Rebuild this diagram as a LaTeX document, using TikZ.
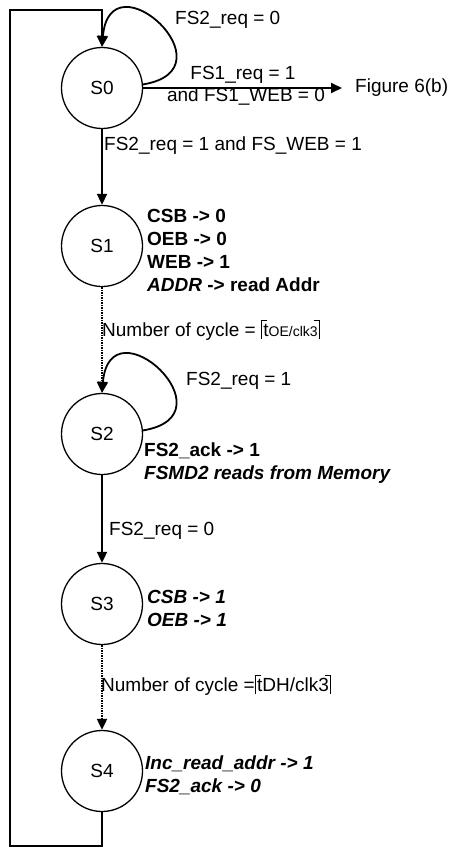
\documentclass[tikz,border=0pt]{standalone}
\usepackage{fontspec}
\setmainfont{Liberation Sans}
\usetikzlibrary{arrows.meta}

% ceiling brackets drawn with rules
\newcommand{\ceilbr}[1]{\rule[-3pt]{1.3pt}{19.3pt}\rule[15pt]{5pt}{1.3pt}\kern-4pt#1\kern-4pt\rule[15pt]{5pt}{1.3pt}\rule[-3pt]{1.3pt}{19.3pt}}

\tikzset{
  every node/.style={font=\fontsize{19}{23}\selectfont},
  state/.style={draw, circle, line width=1.3pt, minimum size=81pt, inner sep=0pt},
  trans/.style={line width=1.8pt, -{Triangle[length=11pt,width=10pt]}},
  waittrans/.style={trans, line width=2pt, dash pattern=on 1.5pt off 1pt},
  lbl/.style={anchor=west, inner sep=1pt},
  act/.style={anchor=west, inner sep=1pt, align=left, font=\fontsize{19}{23}\selectfont\bfseries},
}

\begin{document}
\begin{tikzpicture}[x=1pt, y=-1pt]
    \useasboundingbox (0,0) rectangle (450,848);

    % States
    \node[state] (S0) at (102,88) {S0};
    \node[state] (S1) at (102,246) {S1};
    \node[state] (S2) at (102,434) {S2};
    \node[state] (S3) at (102,604) {S3};
    \node[state] (S4) at (102,771) {S4};

    % Exit to the other figure
    \node[lbl] (fig) at (354,88) {Figure 6(b)};
    \draw[trans, shorten >=12pt] (S0.east) -- (fig.west);
    \node (c1) at (243,75) {FS1\_req = 1};
    \node (c2) at (246,97) {and FS1\_WEB = 0};

    % Self loops
    \draw[trans] (S0.5) .. controls +(92,-15) and +(8,-93) .. (S0.north);
    \node[lbl] (l0) at (174,20) {FS2\_req = 0};
    \draw[trans] (S2.5) .. controls +(92,-15) and +(8,-93) .. (S2.north);
    \node[lbl] (l2) at (185,381) {FS2\_req = 1};

    % Transitions down the chain
    \draw[trans] (S0) -- (S1);
    \node[lbl] (t01) at (103,146) {FS2\_req = 1 and FS\_WEB = 1};
    \draw[waittrans] (S1) -- (S2);
    \node[lbl] (t12) at (101,330) {Number of cycle = \ceilbr{t{\fontsize{14}{14}\selectfont OE/clk3}}};
    \draw[trans] (S2) -- (S3);
    \node[lbl] (t23) at (108,531) {FS2\_req = 0};
    \draw[waittrans] (S3) -- (S4);
    \node[lbl] (t34) at (100,685) {Number of cycle =\ceilbr{tDH/clk3}};

    % Back to S0
    \coordinate (lb) at (10,846);
    \coordinate (lt) at (10,10);
    \draw[trans, line width=2.4pt] (S4.south) -- (S4 |- lb) -- (lb) -- (lt) -- (lt -| S0) -- (S0.north);

    % Outputs of each state
    \node[act] (a1) at (146,250) {CSB -> 0\\OEB -> 0\\WEB -> 1\\\textit{ADDR} -> read Addr};
    \node[act] (a2) at (143,463) {FS2\_ack -> 1\\\itshape FSMD2 reads from Memory};
    \node[act, font=\fontsize{19}{23}\selectfont\bfseries\itshape] (a3) at (146,608) {CSB -> 1\\OEB -> 1};
    \node[act, font=\fontsize{19}{23}\selectfont\bfseries\itshape] (a4) at (144,775) {Inc\_read\_addr -> 1\\FS2\_ack -> 0};
\end{tikzpicture}
\end{document}
